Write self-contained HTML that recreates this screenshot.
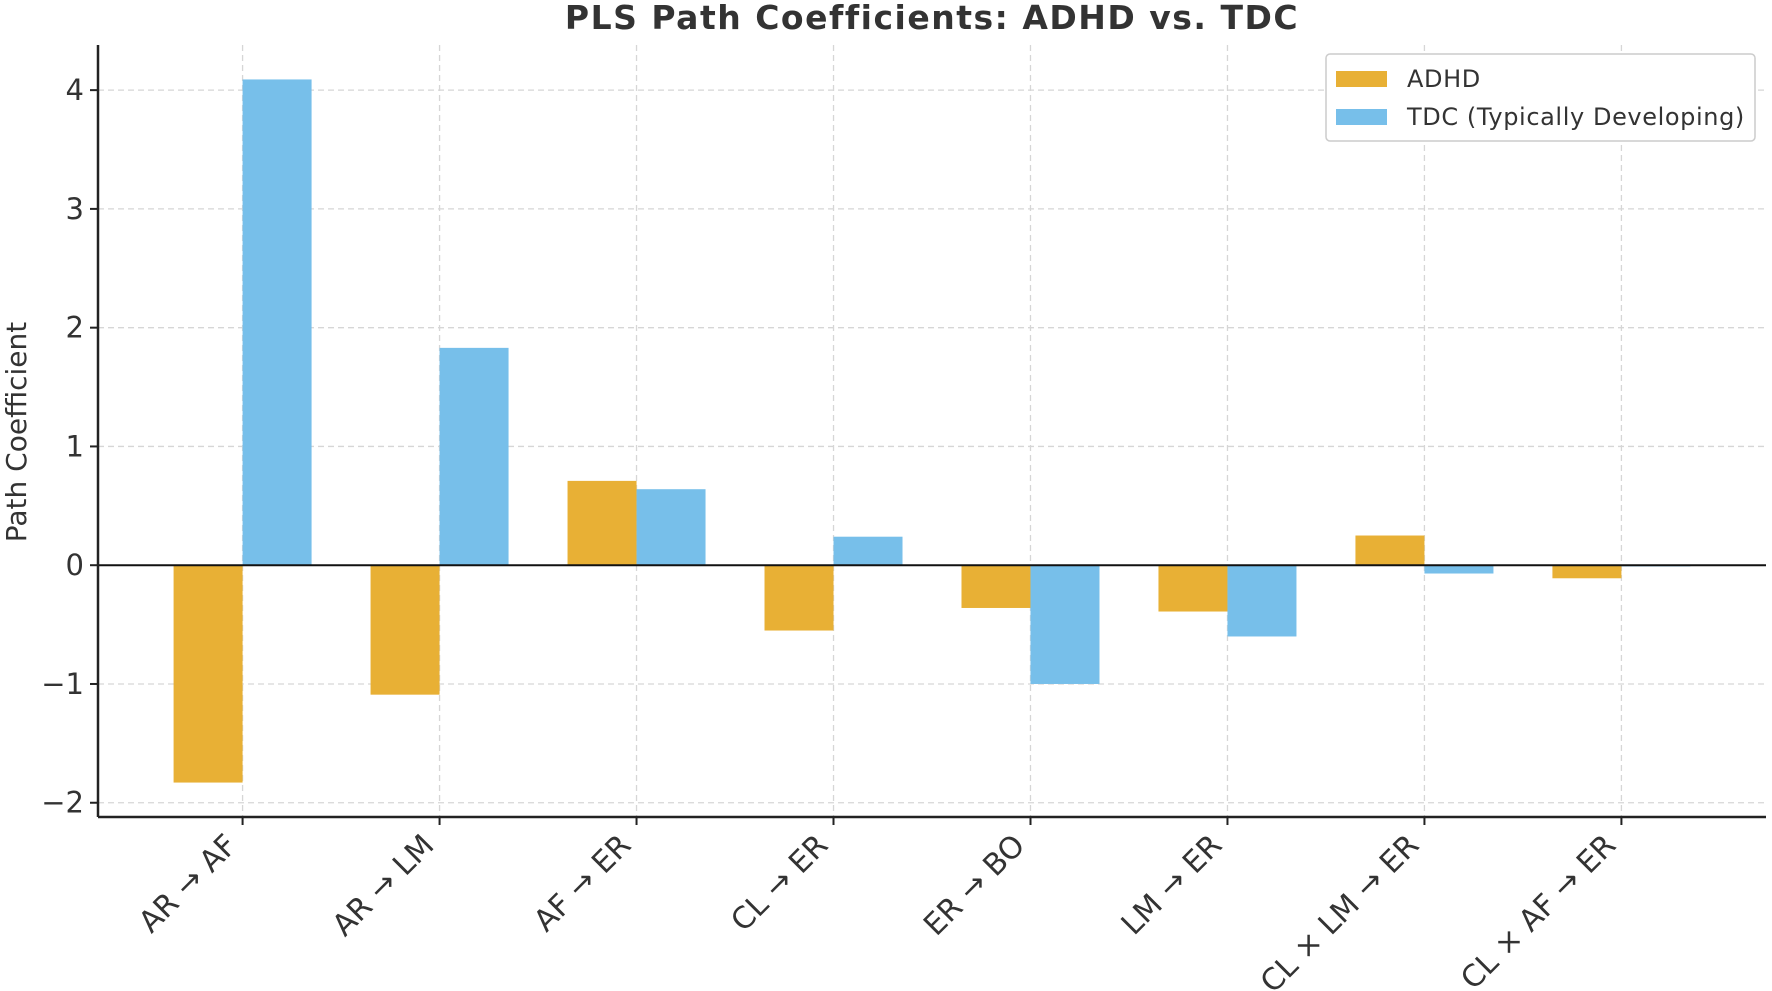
<!DOCTYPE html>
<html><head><meta charset="utf-8"><style>
html,body{margin:0;padding:0;background:#fff}
svg{display:block;font-family:"DejaVu Sans","Liberation Sans",sans-serif}
</style></head><body>
<svg id="chart" width="1772" height="991" viewBox="0 0 1772 991" xmlns="http://www.w3.org/2000/svg">
<text x="932" y="29" text-anchor="middle" font-size="33" font-weight="bold" letter-spacing="1.5" fill="#333">PLS Path Coefficients: ADHD vs. TDC</text>
<text transform="translate(26,432) rotate(-90)" text-anchor="middle" font-size="28" fill="#333">Path Coefficient</text>
<g id="grid"></g><g id="bars"></g><g id="axes"></g>
<g>
<rect x="1326" y="54" width="429" height="87" rx="4" fill="#fff" stroke="#ccc" stroke-width="1.5"/>
<rect x="1336" y="71" width="51" height="16" fill="#E8B035"/>
<text x="1407" y="87" font-size="24" letter-spacing="0.6" fill="#333">ADHD</text>
<rect x="1336" y="109" width="51" height="16" fill="#77BFEA"/>
<text x="1407" y="125" font-size="24" letter-spacing="0.6" fill="#333">TDC (Typically Developing)</text>
</g>
</svg>
<script>
const categories=["AR → AF","AR → LM","AF → ER","CL → ER","ER → BO","LM → ER","CL × LM → ER","CL × AF → ER"];
const adhdValues=[-1.83,-1.09,0.71,-0.55,-0.36,-0.39,0.25,-0.11];
const tdcValues=[4.09,1.83,0.64,0.24,-1.0,-0.60,-0.07,-0.01];
const yTicks=[-2,-1,0,1,2,3,4];
const yTickLabels=["−2","−1","0","1","2","3","4"];

const NS="http://www.w3.org/2000/svg";
const L=98,R=1766,T=45,B=817,yMin=-2.12,yMax=4.38;
const n=categories.length,pad=0.734;
const step=(R-L)/(n-1+2*pad);
const xc=i=>L+step*(pad+i);
const y=v=>B-(v-yMin)/(yMax-yMin)*(B-T);
const bw=69;
function mk(tag,attrs,parent){const e=document.createElementNS(NS,tag);for(const k in attrs)e.setAttribute(k,attrs[k]);parent.appendChild(e);return e;}
const grid=document.getElementById('grid'),bars=document.getElementById('bars'),axes=document.getElementById('axes');
yTicks.forEach((t,i)=>{
  const g=mk('line',{x1:L,x2:R,y1:y(t),y2:y(t),stroke:'#d6d6d6','stroke-dasharray':'6,4','stroke-width':1.3},grid);
  
  
  const tk=mk('line',{x1:L-8,x2:L,y1:y(t),y2:y(t),stroke:'#222','stroke-width':2},axes);
  
  
  const tx=mk('text',{x:L-14,y:y(t)+10,'text-anchor':'end','font-size':29,fill:'#333'},axes);
  tx.textContent=yTickLabels[i];
  
  
});
categories.forEach((c,i)=>{
  const x=xc(i);
  const g=mk('line',{x1:x,x2:x,y1:T,y2:B,stroke:'#d6d6d6','stroke-dasharray':'6,4','stroke-width':1.3},grid);
  
  
  const a=adhdValues[i],d=tdcValues[i];
  const b1=mk('rect',{x:x-bw,y:Math.min(y(a),y(0)),width:bw,height:Math.abs(y(a)-y(0)),fill:'#E8B035'},bars);
  
  
  const b2=mk('rect',{x:x,y:Math.min(y(d),y(0)),width:bw,height:Math.abs(y(d)-y(0)),fill:'#77BFEA'},bars);
  
  
  const tk=mk('line',{x1:x,x2:x,y1:B,y2:B+8,stroke:'#222','stroke-width':2},axes);
  
  
  const ax=x-4,ay=B+30;
  const tx=mk('text',{x:ax,y:ay,'text-anchor':'end','font-size':30,fill:'#333',transform:`rotate(-45 ${ax} ${ay})`},axes);
  tx.textContent=c;
  
  
});
const z=mk('line',{x1:L,x2:R,y1:y(0),y2:y(0),stroke:'#111','stroke-width':2},axes);


const ya=mk('line',{x1:L,x2:L,y1:T,y2:B,stroke:'#222','stroke-width':2.5},axes);


const xa=mk('line',{x1:L,x2:R,y1:B,y2:B,stroke:'#222','stroke-width':2.5},axes);


</script>
</body></html>
